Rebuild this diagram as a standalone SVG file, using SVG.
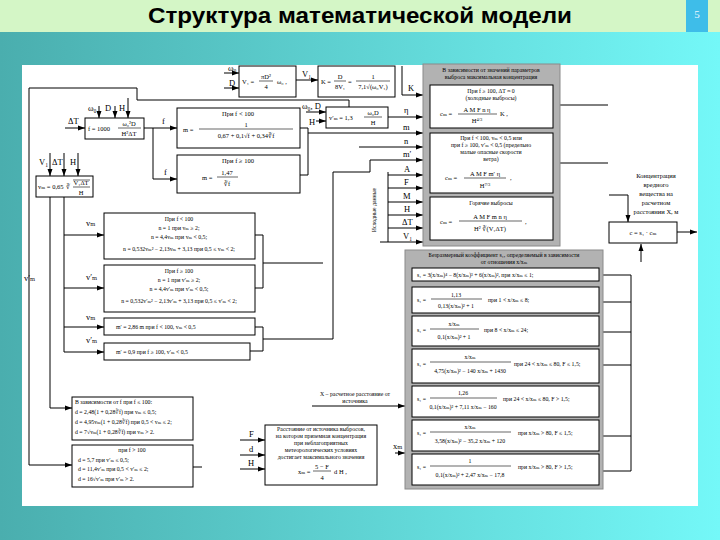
<svg xmlns="http://www.w3.org/2000/svg" width="720" height="540" viewBox="0 0 720 540">
<defs>
<linearGradient id="bg" x1="0" y1="0" x2="1" y2="0">
<stop offset="0" stop-color="#4aaeae"/><stop offset="1" stop-color="#74f8f8"/>
</linearGradient>
<marker id="ah" markerWidth="7" markerHeight="6" refX="7" refY="3" orient="auto" markerUnits="userSpaceOnUse"><path d="M0,0.5 L7,3 L0,5.5 Z" fill="#000"/></marker>
<style>
.b{fill:#fff;stroke:#000;stroke-width:1}
.gr{fill:#b2b2b2;stroke:#8a8a8a;stroke-width:1}
.l{fill:none;stroke:#000;stroke-width:1}
.a{fill:none;stroke:#000;stroke-width:1;marker-end:url(#ah)}
.fl{stroke:#000;stroke-width:0.6}
text{font-family:"Liberation Serif","DejaVu Serif",serif;fill:#000}
.t{font-size:6.5px}
.s{font-size:5.8px}
.lb{font-size:8.5px}
.c{text-anchor:middle}
.ttl{font-family:"Liberation Sans",Arial,sans-serif;font-weight:bold;font-size:22px}
</style>
</defs>
<rect x="0" y="0" width="720" height="540" fill="url(#bg)"/>
<rect x="0" y="0" width="720" height="32" fill="#d4f6c6"/>
<rect x="686" y="0" width="22" height="32" fill="#3ebde9"/>
<text x="697" y="18" class="c" style="font-size:11px;fill:#e8f6ff">5</text>
<text x="360" y="23" class="ttl c" textLength="424" lengthAdjust="spacingAndGlyphs">Структура математической модели</text>
<rect x="22" y="65" width="676" height="441" fill="#fff"/>

<g id="connectors">
<path class="a" d="M224,73 H239"/>
<path class="a" d="M224,88 H239"/>
<path class="a" d="M296,80 H318"/>
<path class="a" d="M402,66 V95 H423"/>
<path class="a" d="M99,106 V118"/>
<path class="a" d="M115,106 V118"/>
<path class="a" d="M128,98 V118"/>
<path class="a" d="M65,128 H85"/>
<path class="a" d="M144,128 H177"/>
<path class="a" d="M153,128 V179 H177"/>
<path class="l" d="M300,128 H308 V175 H300"/>
<path class="a" d="M308,133 H423"/>
<path class="a" d="M306,112 H326"/>
<path class="a" d="M316,121 H326"/>
<path class="a" d="M349,107 V100 H137 V88 H29 V465 H72"/>
<path class="a" d="M388,117 H423"/>
<path class="a" d="M359,147 H423"/>
<path class="a" d="M263,339 H333 V172 H370 V160 H423"/>
<path class="l" d="M388,172 V242"/>
<path class="a" d="M388,175 H423"/>
<path class="a" d="M388,188 H423"/>
<path class="a" d="M388,202 H423"/>
<path class="a" d="M388,215 H423"/>
<path class="a" d="M388,228 H423"/>
<path class="a" d="M380,242 H423"/>
<path class="a" d="M50,153 V176"/>
<path class="a" d="M64,153 V176"/>
<path class="a" d="M78,153 V176"/>
<path class="a" d="M50,197 V408 H72"/>
<path class="a" d="M64,197 V352 H104"/>
<path class="a" d="M64,235 H104"/>
<path class="a" d="M64,288 H104"/>
<path class="a" d="M64,327 H104"/>
<path class="l" d="M255,235 H263 V288 H255"/>
<path class="l" d="M263,263 H323"/>
<path class="l" d="M255,327 H263 V351 H250"/>
<path class="l" d="M193,467 H202"/>
<path class="a" d="M240,440 H265"/>
<path class="a" d="M240,455 H265"/>
<path class="a" d="M240,469 H265"/>
<path class="a" d="M312,406 H405"/>
<path class="a" d="M395,453 H405"/>
<path class="l" d="M560,105 H608"/>
<path class="l" d="M560,163 H608"/>
<path class="a" d="M609,195 H628 V222"/>
<path class="a" d="M677,232 H697"/>
<path class="a" d="M641,262 V244"/>
<path class="l" d="M603,275 H631 M603,302 H631 M603,332 H631 M603,365 H631 M603,436 H631 M603,471 H631 M631,275 V471"/>
</g>

<g id="labels">
<text class="lb" x="228" y="71">ω₀</text>
<text class="lb" x="229" y="86">D</text>
<text class="lb" x="302" y="77">V₁</text>
<text class="lb" x="408" y="91">K</text>
<text class="lb" x="88" y="111">ω₀</text>
<text class="lb" x="105" y="111">D</text>
<text class="lb" x="119" y="111">H</text>
<text class="lb" x="68" y="124">ΔT</text>
<text class="lb" x="162" y="124">f</text>
<text class="lb" x="164" y="175">f</text>
<text class="lb" x="302" y="109">ω₀, D</text>
<text class="lb" x="309" y="125">H</text>
<text class="lb" x="404" y="113">η</text>
<text class="lb" x="403" y="130">m</text>
<text class="lb" x="404" y="144">n</text>
<text class="lb" x="403" y="157">m′</text>
<text class="lb" x="404" y="172">A</text>
<text class="lb" x="404" y="185">F</text>
<text class="lb" x="403" y="199">M</text>
<text class="lb" x="404" y="212">H</text>
<text class="lb" x="402" y="225">ΔT</text>
<text class="lb" x="403" y="239">V₁</text>
<text class="s" transform="translate(376,210) rotate(-90)" text-anchor="middle">Исходные данные</text>
<text class="lb" x="39" y="165">V₁</text>
<text class="lb" x="52" y="165">ΔT</text>
<text class="lb" x="70" y="165">H</text>
<text class="lb" x="24" y="281">v′ₘ</text>
<text class="lb" x="86" y="226">vₘ</text>
<text class="lb" x="86" y="280">v′ₘ</text>
<text class="lb" x="86" y="320">vₘ</text>
<text class="lb" x="86" y="343">v′ₘ</text>
<text class="lb" x="249" y="437">F</text>
<text class="lb" x="249" y="452">d</text>
<text class="lb" x="248" y="466">H</text>
<text class="lb" x="393" y="449">xₘ</text>
<text class="s c" x="355" y="396">X – расчетное расстояние от</text>
<text class="s c" x="355" y="403">источника</text>
<text class="t c" x="656" y="178">Концентрация</text>
<text class="t c" x="656" y="187">вредного</text>
<text class="t c" x="656" y="196">вещества на</text>
<text class="t c" x="656" y="205">расчетном</text>
<text class="t c" x="656" y="214">расстоянии X, м</text>
</g>

<g id="n-v1">
<rect class="b" x="239" y="66" width="57" height="31"/>
<text class="t" x="242" y="84">V₁ =</text>
<text class="t c" x="266" y="79">πD²</text><line class="fl" x1="259" y1="81" x2="273" y2="81"/><text class="t c" x="266" y="89">4</text>
<text class="t" x="277" y="84">ω₀ ,</text>
</g>

<g id="n-k">
<rect class="b" x="318" y="66" width="77" height="31"/>
<text class="t" x="321" y="84">K =</text>
<text class="t c" x="340" y="79">D</text><line class="fl" x1="334" y1="81" x2="346" y2="81"/><text class="t c" x="340" y="89">8V₁</text>
<text class="t" x="348" y="84">=</text>
<text class="t c" x="373" y="79">1</text><line class="fl" x1="356" y1="81" x2="390" y2="81"/><text class="t c" x="373" y="89">7,1√(ω₀V₁)</text>
</g>

<g id="n-f">
<rect class="b" x="85" y="118" width="59" height="21"/>
<text class="t" x="88" y="131">f = 1000</text>
<text class="t c" x="129" y="126">ω₀²D</text><line class="fl" x1="118" y1="128" x2="141" y2="128"/><text class="t c" x="129" y="136">H²ΔT</text>
</g>

<g id="n-m1">
<rect class="b" x="177" y="108" width="123" height="40"/>
<text class="t c" x="238" y="116">При f &lt; 100</text>
<text class="t" x="183" y="132">m =</text>
<text class="t c" x="246" y="127">1</text><line class="fl" x1="199" y1="129" x2="293" y2="129"/><text class="t c" x="246" y="138">0,67 + 0,1√f + 0,34∛f</text>
</g>

<g id="n-m2">
<rect class="b" x="177" y="155" width="123" height="38"/>
<text class="t c" x="238" y="163">При f ≥ 100</text>
<text class="t" x="202" y="180">m =</text>
<text class="t c" x="227" y="175">1,47</text><line class="fl" x1="217" y1="177" x2="238" y2="177"/><text class="t c" x="227" y="186">∛f</text>
</g>

<g id="n-vm2">
<rect class="b" x="326" y="107" width="62" height="21"/>
<text class="t" x="329" y="120">v′ₘ = 1,3</text>
<text class="t c" x="373" y="115">ω₀D</text><line class="fl" x1="364" y1="117" x2="382" y2="117"/><text class="t c" x="373" y="125">H</text>
</g>

<g id="n-cm">
<rect class="gr" x="423" y="64" width="137" height="182"/>
<text class="s c" x="491" y="72">В зависимости от значений параметров</text>
<text class="s c" x="491" y="79">выброса максимальная концентрация</text>
<rect class="b" x="430" y="85" width="123" height="43"/>
<text class="s c" x="491" y="93">При f ≥ 100, ΔT ≈ 0</text>
<text class="s c" x="491" y="100">(холодные выбросы)</text>
<text class="t" x="440" y="116">cₘ =</text>
<text class="t c" x="477" y="112">A M F n η</text><line class="fl" x1="458" y1="114" x2="497" y2="114"/><text class="t c" x="477" y="123">H<tspan dy="-2" font-size="4.5">4/3</tspan></text>
<text class="t" x="500" y="116">K ,</text>
<rect class="b" x="430" y="133" width="123" height="60"/>
<text class="s c" x="491" y="140">При f &lt; 100, vₘ &lt; 0,5 или</text>
<text class="s c" x="491" y="147">при f ≥ 100, v′ₘ &lt; 0,5 (предельно</text>
<text class="s c" x="491" y="154">малые опасные скорости</text>
<text class="s c" x="491" y="161">ветра)</text>
<text class="t" x="445" y="180">cₘ =</text>
<text class="t c" x="485" y="176">A M F m′ η</text><line class="fl" x1="464" y1="178" x2="506" y2="178"/><text class="t c" x="485" y="188">H<tspan dy="-2" font-size="4.5">7/3</tspan></text>
<text class="t" x="510" y="180">,</text>
<rect class="b" x="430" y="197" width="123" height="43"/>
<text class="s c" x="491" y="205">Горячие выбросы</text>
<text class="t" x="440" y="224">cₘ =</text>
<text class="t c" x="490" y="219">A M F m n η</text><line class="fl" x1="459" y1="221" x2="522" y2="221"/><text class="t c" x="490" y="231">H² ∛(V₁ΔT)</text>
<text class="t" x="525" y="224">,</text>
</g>

<g id="n-cx">
<rect class="b" x="609" y="222" width="68" height="21"/>
<text class="t c" x="643" y="235">c = s₁ · cₘ</text>
</g>

<g id="n-s1">
<rect class="gr" x="405" y="250" width="198" height="239"/>
<text class="s c" x="504" y="257">Безразмерный коэффициент s₁, определяемый в зависимости</text>
<text class="s c" x="504" y="264">от отношения x/xₘ</text>
<rect class="b" x="412" y="268" width="187" height="13"/>
<text class="s" x="417" y="277">s₁ = 3(x/xₘ)⁴ − 8(x/xₘ)³ + 6(x/xₘ)²,  при x/xₘ ≤ 1;</text>
<rect class="b" x="412" y="287" width="187" height="26"/>
<text class="s" x="417" y="302">s₁ =</text>
<text class="s c" x="456" y="297">1,13</text><line class="fl" x1="431" y1="299" x2="482" y2="299"/><text class="s c" x="456" y="308">0,13(x/xₘ)² + 1</text>
<text class="s" x="488" y="302">при 1 &lt; x/xₘ ≤ 8;</text>
<rect class="b" x="412" y="316" width="187" height="30"/>
<text class="s" x="417" y="332">s₁ =</text>
<text class="s c" x="454" y="326">x/xₘ</text><line class="fl" x1="430" y1="329" x2="479" y2="329"/><text class="s c" x="454" y="339">0,1(x/xₘ)² + 1</text>
<text class="s" x="484" y="332">при 8 &lt; x/xₘ ≤ 24;</text>
<rect class="b" x="412" y="349" width="187" height="34"/>
<text class="s" x="417" y="366">s₁ =</text>
<text class="s c" x="470" y="359">x/xₘ</text><line class="fl" x1="430" y1="362" x2="511" y2="362"/><text class="s c" x="470" y="373">4,75(x/xₘ)² − 140 x/xₘ + 1430</text>
<text class="s" x="514" y="366">при 24 &lt; x/xₘ ≤ 80, F ≤ 1,5;</text>
<rect class="b" x="412" y="386" width="187" height="31"/>
<text class="s" x="417" y="401">s₁ =</text>
<text class="s c" x="463" y="395">1,26</text><line class="fl" x1="430" y1="398" x2="497" y2="398"/><text class="s c" x="463" y="409">0,1(x/xₘ)² + 7,11 x/xₘ − 160</text>
<text class="s" x="503" y="401">при 24 &lt; x/xₘ ≤ 80, F &gt; 1,5;</text>
<rect class="b" x="412" y="420" width="187" height="31"/>
<text class="s" x="417" y="435">s₁ =</text>
<text class="s c" x="470" y="429">x/xₘ</text><line class="fl" x1="430" y1="432" x2="511" y2="432"/><text class="s c" x="470" y="443">3,58(x/xₘ)² − 35,2 x/xₘ + 120</text>
<text class="s" x="518" y="435">при x/xₘ &gt; 80, F ≤ 1,5;</text>
<rect class="b" x="412" y="454" width="187" height="31"/>
<text class="s" x="417" y="469">s₁ =</text>
<text class="s c" x="470" y="463">1</text><line class="fl" x1="430" y1="466" x2="511" y2="466"/><text class="s c" x="470" y="477">0,1(x/xₘ)² + 2,47 x/xₘ − 17,8</text>
<text class="s" x="518" y="469">при x/xₘ &gt; 80, F &gt; 1,5;</text>
</g>

<g id="n-vm">
<rect class="b" x="36" y="176" width="57" height="21"/>
<text class="t" x="38" y="189">vₘ = 0,65</text>
<text class="t" x="66" y="189">∛</text>
<line class="fl" x1="73" y1="180" x2="90" y2="180"/>
<text class="t c" x="81" y="185">V₁ΔT</text><line class="fl" x1="73" y1="187" x2="90" y2="187"/><text class="t c" x="81" y="195">H</text>
</g>

<g id="n-n1">
<rect class="b" x="104" y="213" width="151" height="46"/>
<text class="s c" x="179" y="221">При f &lt; 100</text>
<text class="s c" x="179" y="230">n = 1 при vₘ ≥ 2;</text>
<text class="s c" x="179" y="239">n = 4,4vₘ при vₘ &lt; 0,5;</text>
<text class="s c" x="179" y="251">n = 0,532vₘ² − 2,13vₘ + 3,13 при 0,5 ≤ vₘ &lt; 2;</text>
</g>

<g id="n-n2">
<rect class="b" x="104" y="265" width="151" height="47"/>
<text class="s c" x="179" y="273">При f ≥ 100</text>
<text class="s c" x="179" y="282">n = 1 при v′ₘ ≥ 2;</text>
<text class="s c" x="179" y="291">n = 4,4v′ₘ при v′ₘ &lt; 0,5;</text>
<text class="s c" x="179" y="303">n = 0,532v′ₘ² − 2,13v′ₘ + 3,13 при 0,5 ≤ v′ₘ &lt; 2;</text>
</g>

<g id="n-mp1">
<rect class="b" x="104" y="318" width="151" height="17"/>
<text class="s" x="116" y="329">m′ = 2,86 m при f &lt; 100, vₘ &lt; 0,5</text>
</g>

<g id="n-mp2">
<rect class="b" x="104" y="343" width="146" height="17"/>
<text class="s" x="116" y="354">m′ = 0,9 при f ≥ 100, v′ₘ &lt; 0,5</text>
</g>

<g id="n-d1">
<rect class="b" x="72" y="397" width="121" height="43"/>
<text class="s" x="75" y="404">В зависимости от f при f ≤ 100:</text>
<text class="s" x="75" y="414">d = 2,48(1 + 0,28∛f) при vₘ ≤ 0,5;</text>
<text class="s" x="75" y="424">d = 4,95vₘ(1 + 0,28∛f) при 0,5 &lt; vₘ ≤ 2;</text>
<text class="s" x="75" y="434">d = 7√vₘ(1 + 0,28∛f) при vₘ &gt; 2.</text>
</g>

<g id="n-d2">
<rect class="b" x="72" y="445" width="121" height="42"/>
<text class="s c" x="132" y="452">при f &gt; 100</text>
<text class="s" x="78" y="462">d = 5,7 при v′ₘ ≤ 0,5;</text>
<text class="s" x="78" y="471">d = 11,4v′ₘ при 0,5 &lt; v′ₘ ≤ 2;</text>
<text class="s" x="78" y="481">d = 16√v′ₘ при v′ₘ &gt; 2.</text>
</g>

<g id="n-xm">
<rect class="b" x="265" y="425" width="112" height="60"/>
<text class="s c" x="321" y="431">Расстояние от источника выбросов,</text>
<text class="s c" x="321" y="438">на котором приземная концентрация</text>
<text class="s c" x="321" y="445">при неблагоприятных</text>
<text class="s c" x="321" y="452">метеорологических условиях</text>
<text class="s c" x="321" y="459">достигает максимального значения</text>
<text class="t" x="298" y="474">xₘ =</text>
<text class="t c" x="322" y="469">5 − F</text><line class="fl" x1="313" y1="471" x2="331" y2="471"/><text class="t c" x="322" y="480">4</text>
<text class="t" x="334" y="474">d H ,</text>
</g>
</svg>
